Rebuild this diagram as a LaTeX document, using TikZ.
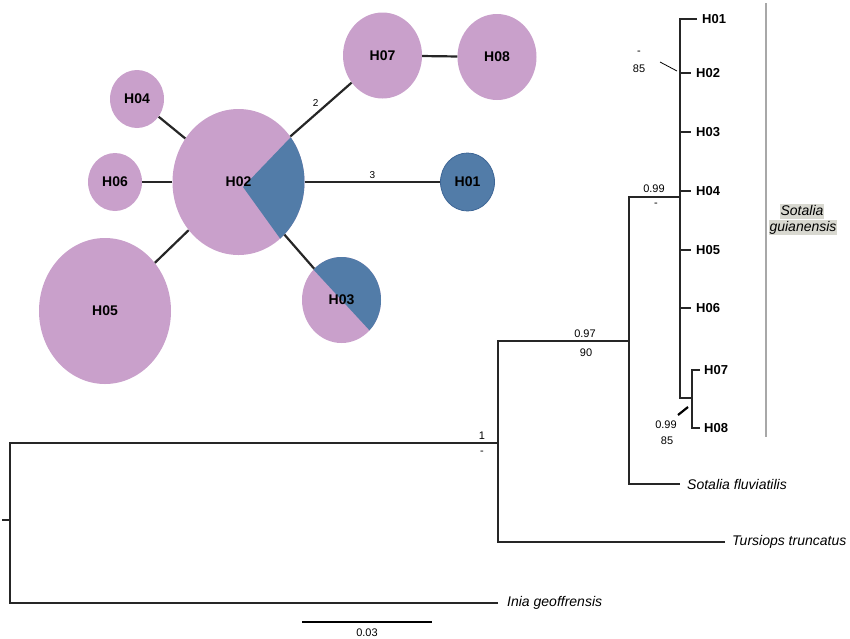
\documentclass[tikz,border=0pt]{standalone}
\usepackage{fontspec}
\setmainfont{Liberation Sans}
\usetikzlibrary{shapes.geometric}
\definecolor{hpink}{RGB}{201,160,203}
\definecolor{hblue}{RGB}{82,124,168}
\definecolor{hblueline}{RGB}{62,102,150}
\definecolor{cladegray}{RGB}{168,168,168}
\definecolor{cladefill}{RGB}{216,216,208}
\tikzstyle{hap} = [ellipse, inner sep=0pt, font=\fontsize{14}{16}\selectfont\bfseries]
\tikzstyle{pinkhap} = [hap, fill=hpink]
\tikzstyle{bluehap} = [hap, fill=hblue, draw=hblueline, line width=0.8pt]
\tikzstyle{smallhap} = [minimum width=54, minimum height=58]
\tikzstyle{midhap} = [minimum width=79, minimum height=86]
\tikzstyle{bighap} = [minimum width=132, minimum height=146]
\tikzstyle{link} = [line width=2.2pt, draw=black!85]
\tikzstyle{mutlabel} = [font=\fontsize{10}{12}\selectfont, inner sep=1.5pt]
\tikzstyle{branch} = [line width=2.2pt, draw=black!85]
\tikzstyle{leaf} = [anchor=west, inner xsep=5pt, font=\fontsize{13}{15}\selectfont\bfseries]
\tikzstyle{species} = [anchor=west, font=\fontsize{14}{16}\selectfont\itshape]
\tikzstyle{support} = [font=\fontsize{11}{13}\selectfont, inner sep=0pt]
\tikzstyle{cladename} = [anchor=base, fill=cladefill, inner xsep=1pt, inner ysep=1pt, text height=10pt, text depth=3pt, font=\fontsize{14}{16}\selectfont\itshape]

\begin{document}
\begin{tikzpicture}[x=1pt, y=-1pt]
\useasboundingbox (0,0) rectangle (850,638);

% haplotype network
\node (h02) [pinkhap, bighap, path picture={\fill[hblue] (path picture bounding box.center) ++(4.5,5) -- ++(94,-98) -- ++(80,0) -- ++(-102,198) -- cycle;}] at (238.5,182) {H02};
\node (h05) [pinkhap, bighap] at (105,311) {H05};
\node (h07) [pinkhap, midhap] at (382.5,55.5) {H07};
\node (h08) [pinkhap, midhap] at (497,57) {H08};
\node (h03) [pinkhap, midhap, path picture={\fill[hblue] (path picture bounding box.center) ++(-60,-65) -- ++(120,0) -- ++(0,130) -- cycle;}] at (341.5,300) {H03};
\node (h04) [pinkhap, smallhap] at (137,99) {H04};
\node (h06) [pinkhap, smallhap] at (115,182) {H06};
\node (h01) [bluehap, smallhap] at (467.5,182) {H01};

\draw [link] (h02) -- (h04);
\draw [link] (h02) -- (h06);
\draw [link] (h02) -- (h05);
\draw [link] (h02) -- (h03);
\draw [link] (h02) -- node[mutlabel, above left] {2} (h07);
\draw [link] (h02) -- node[mutlabel, above, yshift=1pt] {3} (h01);
\draw [link] (h07) -- (h08);

% tree
\coordinate (rt) at (2,520);
\coordinate (root) at (10,520);
\coordinate (nA) at (498,443);
\coordinate (nB) at (629,341);
\coordinate (nC) at (680,197);
\coordinate (nD) at (692,398);

\node (t01) [leaf] at (697,19) {H01};
\node (t02) [leaf] at (691,73) {H02};
\node (t03) [leaf] at (691,132) {H03};
\node (t04) [leaf] at (691,191) {H04};
\node (t05) [leaf] at (691,250) {H05};
\node (t06) [leaf] at (691,308) {H06};
\node (t07) [leaf, inner xsep=4pt] at (700,370) {H07};
\node (t08) [leaf, inner xsep=4pt] at (700,428) {H08};
\node (sfl) [species, inner xsep=7pt] at (680,484) {Sotalia fluviatilis};
\node (ttr) [species, inner xsep=7pt] at (725,542) {Tursiops truncatus};
\node (ige) [species, inner xsep=9pt] at (498,603) {Inia geoffrensis};

\draw [branch] (rt) -- (root);
\draw [branch] (ige.west) -| (root) |- (nA);
\draw [branch] (ttr.west) -| (nA) |- (nB);
\draw [branch] (sfl.west) -| (nB) |- (nC);
\draw [branch] (t01.west) -| (nC) |- (nD);
\draw [branch] (t07.west) -| (nD) |- (t08.west);
\foreach \t in {02,03,04,05,06}
    \draw [branch] (nC |- t\t) -- (t\t.west);

% support values
\node (sA1) [support] at (482,436) {1};
\node (sA2) [support] at (482,453) {-};
\node (sB1) [support] at (585,334) {0.97};
\node (sB2) [support] at (586,353) {90};
\node (sC1) [support] at (654,189) {0.99};
\node (sC2) [support] at (656,205) {-};
\node (s21) [support] at (639,53) {-};
\node (s22) [support] at (639,69) {85};
\node (sD1) [support] at (666,425) {0.99};
\node (sD2) [support] at (667,441) {85};
\coordinate (p2a) at (660,62);
\coordinate (p2b) at (677,71);
\coordinate (pDa) at (678,415);
\coordinate (pDb) at (688,407);
\draw [line width=0.8pt] (p2a) -- (p2b);
\draw [line width=2.2pt] (pDa) -- (pDb);

% clade bar
\coordinate (gtop) at (766,3);
\coordinate (gbot) at (766,437);
\draw [cladegray, line width=1.5pt] (gtop) -- (gbot);
\node (cl1) [cladename] at (802,215) {Sotalia};
\node (cl2) [cladename] at (803,231) {guianensis};

% scale bar
\coordinate (sc1) at (302,622);
\coordinate (sc2) at (432,622);
\draw [line width=1.5pt] (sc1) -- (sc2);
\node (scl) [support] at (367,633) {0.03};
\end{tikzpicture}
\end{document}
